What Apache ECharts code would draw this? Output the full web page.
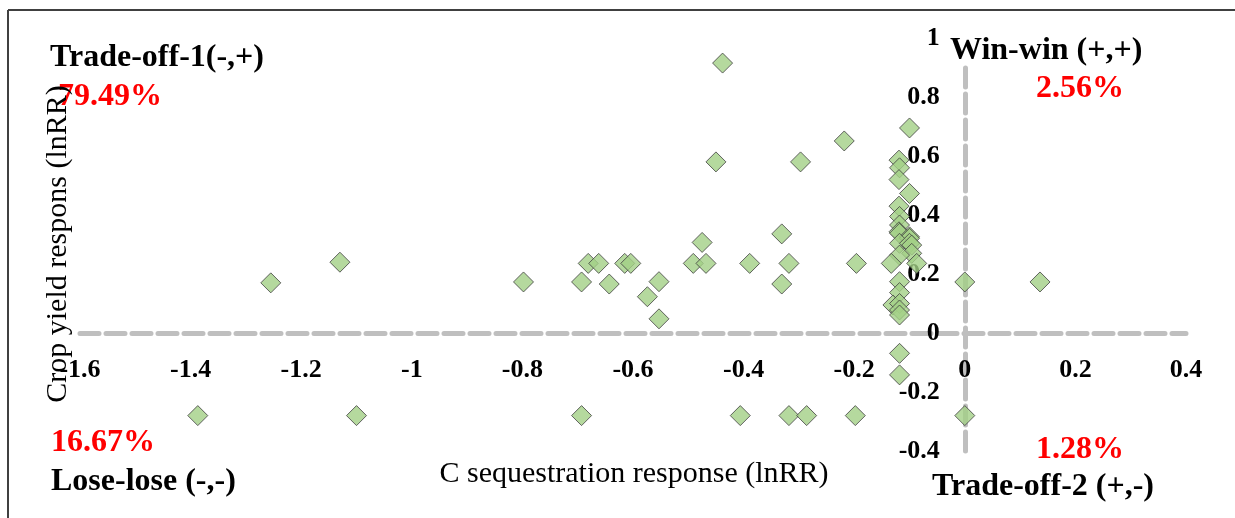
<!DOCTYPE html>
<html>
<head>
<meta charset="utf-8">
<script src="https://cdn.jsdelivr.net/npm/echarts@6/dist/echarts.min.js"></script>
<style>
html,body{margin:0;padding:0;background:#fff;}
#chart{width:1235px;height:518px;}
</style>
</head>
<body>
<div id="chart"></div>
<script>
// C sequestration response (lnRR) for each observation
const xValues = [
  -1.255, -1.13, -0.798, -0.693, -0.681, -0.662, -0.643, -0.615, -0.604,
  -0.574, -0.553, -0.553, -0.491, -0.475, -0.468, -0.45, -0.438, -0.389,
  -0.331, -0.331, -0.318, -0.297, -0.218, -0.196,
  -0.100, -0.119, -0.118, -0.119, -0.100, -0.119, -0.118, -0.118, -0.119,
  -0.118, -0.100, -0.100, -0.118, -0.100, -0.096, -0.096, -0.118, -0.133,
  -0.087, -0.118, -0.118, -0.130, -0.118, -0.118, -0.118,
  -1.387, -1.10, -0.693, -0.406, -0.318, -0.286, -0.198, -0.118, -0.118,
  0, 0.136,
  0
];
// Crop yield response (lnRR) for each observation
const yValues = [
  0.17, 0.24, 0.173, 0.173, 0.236, 0.236, 0.166, 0.236, 0.236,
  0.123, 0.174, 0.048, 0.236, 0.307, 0.236, 0.58, 0.915, 0.236,
  0.336, 0.166, 0.236, 0.58, 0.651, 0.236,
  0.695, 0.586, 0.56, 0.52, 0.473, 0.43, 0.395, 0.366, 0.343,
  0.338, 0.326, 0.321, 0.304, 0.304, 0.298, 0.27, 0.264, 0.236,
  0.236, 0.174, 0.137, 0.095, 0.100, 0.078, 0.061,
  -0.28, -0.28, -0.28, -0.28, -0.28, -0.28, -0.28, -0.069, -0.142,
  0.173, 0.173,
  -0.28
];
const xTicks = { min: -1.6, max: 0.4, interval: 0.2 };
const yTicks = { min: -0.4, max: 1, interval: 0.2 };
const quadrantNames = ['Trade-off-1(-,+)', 'Win-win (+,+)', 'Lose-lose (-,-)', 'Trade-off-2 (+,-)'];
const quadrantShares = ['79.49%', '2.56%', '16.67%', '1.28%'];
const xTitle = 'C sequestration response (lnRR)';
const yTitle = 'Crop yield respons (lnRR)';

const points = xValues.map((x, i) => [x, yValues[i]]);
const serif = "'Liberation Serif', 'Times New Roman', serif";
const axisLineStyle = { color: '#bfbfbf', width: 5, type: [19, 7] };
const tickLabel = { fontFamily: serif, fontWeight: 'bold', fontSize: 26, color: '#000' };

const GRID = { left: 80, right: 49, top: 38, bottom: 67 };
const W = 1235, H = 518;
const plotW = W - GRID.left - GRID.right, plotH = H - GRID.top - GRID.bottom;
// shift axes so that they cross at the origin (labels travel with the lines)
const xAxisOffset = -plotH * (0 - yTicks.min) / (yTicks.max - yTicks.min);
const yAxisOffset = -plotW * (0 - xTicks.min) / (xTicks.max - xTicks.min);

const bigBold = "bold 32px " + serif;
const chart = echarts.init(document.getElementById('chart'), null, { renderer: 'canvas' });
chart.setOption({
  animation: false,
  backgroundColor: '#fff',
  grid: Object.assign({ containLabel: false, outerBoundsMode: 'none' }, GRID),
  xAxis: {
    type: 'value', min: xTicks.min, max: xTicks.max, interval: xTicks.interval,
    position: 'bottom', offset: xAxisOffset,
    axisLine: { show: true, onZero: false, lineStyle: axisLineStyle },
    axisTick: { show: false },
    splitLine: { show: false },
    axisLabel: Object.assign({ margin: 24 }, tickLabel)
  },
  yAxis: {
    type: 'value', min: yTicks.min, max: yTicks.max, interval: yTicks.interval,
    position: 'left', offset: yAxisOffset,
    axisLine: { show: true, onZero: false, lineStyle: axisLineStyle },
    axisTick: { show: false },
    splitLine: { show: false },
    axisLabel: Object.assign({ margin: 25 }, tickLabel)
  },
  series: [{
    type: 'scatter',
    data: points,
    symbol: 'diamond',
    symbolSize: [20, 20],
    itemStyle: { color: '#a3cf86', borderColor: '#404040', borderWidth: 1 },
    z: 3
  }],
  graphic: [
    { type: 'line', shape: { x1: 8, y1: 10, x2: 1235, y2: 10 }, style: { stroke: '#404040', lineWidth: 2 }, z: 50 },
    { type: 'line', shape: { x1: 8, y1: 10, x2: 8, y2: 518 }, style: { stroke: '#404040', lineWidth: 2 }, z: 50 },
    { type: 'rect', shape: { x: 955, y: 30, width: 20, height: 34 }, style: { fill: '#fff' }, z: 60 },
    { type: 'text', x: 50, y: 58, z: 70, style: { text: quadrantNames[0], font: bigBold, fill: '#000', textAlign: 'left', textVerticalAlign: 'middle' } },
    { type: 'text', x: 58, y: 97, z: 70, style: { text: quadrantShares[0], font: bigBold, fill: '#ff0000', textAlign: 'left', textVerticalAlign: 'middle' } },
    { type: 'text', x: 950, y: 51, z: 70, style: { text: quadrantNames[1], font: bigBold, fill: '#000', textAlign: 'left', textVerticalAlign: 'middle' } },
    { type: 'text', x: 1036, y: 89, z: 70, style: { text: quadrantShares[1], font: bigBold, fill: '#ff0000', textAlign: 'left', textVerticalAlign: 'middle' } },
    { type: 'text', x: 51, y: 443, z: 70, style: { text: quadrantShares[2], font: bigBold, fill: '#ff0000', textAlign: 'left', textVerticalAlign: 'middle' } },
    { type: 'text', x: 51, y: 482, z: 70, style: { text: quadrantNames[2], font: bigBold, fill: '#000', textAlign: 'left', textVerticalAlign: 'middle' } },
    { type: 'text', x: 1036, y: 450, z: 70, style: { text: quadrantShares[3], font: bigBold, fill: '#ff0000', textAlign: 'left', textVerticalAlign: 'middle' } },
    { type: 'text', x: 932, y: 487, z: 70, style: { text: quadrantNames[3], font: bigBold, fill: '#000', textAlign: 'left', textVerticalAlign: 'middle' } },
    { type: 'text', x: 634, y: 474, z: 70, style: { text: xTitle, font: "30px " + serif, fill: '#000', textAlign: 'center', textVerticalAlign: 'middle' } },
    { type: 'text', x: 58, y: 244, rotation: Math.PI / 2, z: 70, style: { text: yTitle, font: "30px " + serif, fill: '#000', textAlign: 'center', textVerticalAlign: 'middle' } }
  ]
});
</script>
</body>
</html>
